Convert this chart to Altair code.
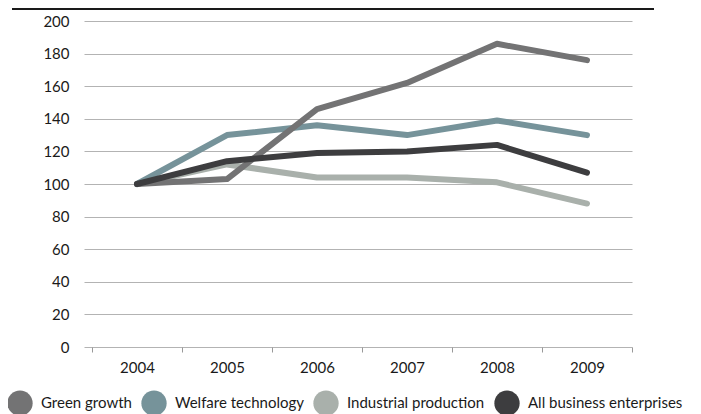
import altair as alt
import pandas as pd

years = ["2004", "2005", "2006", "2007", "2008", "2009"]
series_names = ["Green growth", "Welfare technology", "Industrial production", "All business enterprises"]
green_growth = [100, 103, 146, 162, 186, 176]
welfare_technology = [100, 130, 136, 130, 139, 130]
industrial_production = [100, 112, 104, 104, 101, 88]
all_business = [100, 114, 119, 120, 124, 107]
colors = ["#737374", "#76939a", "#a9b0ab", "#3d3d3f"]

# drawing order: industrial, welfare, green, all business on top
rows = []
for name, vals in [("Industrial production", industrial_production),
                   ("Welfare technology", welfare_technology),
                   ("Green growth", green_growth),
                   ("All business enterprises", all_business)]:
    for y, v in zip(years, vals):
        rows.append({"Year": y, "Value": v, "Series": name})
df = pd.DataFrame(rows)

FONT = "Lato"

x_enc = alt.X("Year:O", sort=years,
              scale=alt.Scale(paddingInner=0, paddingOuter=0.0444, align=1),
              axis=alt.Axis(title=None, labelAngle=0, tickBand="extent", domain=False,
                            ticks=True, tickColor="#999999", tickSize=5, labelPadding=8,
                            labelFont=FONT, labelFontSize=15, labelColor="#1a1a1a", grid=False))
y_enc = alt.Y("Value:Q", scale=alt.Scale(domain=[0, 200], nice=False),
              axis=alt.Axis(title=None, values=list(range(0, 201, 20)), domain=False, ticks=False,
                            labelPadding=15, labelFont=FONT, labelFontSize=15, labelColor="#1a1a1a",
                            grid=True, gridColor="#b3b3b3", gridWidth=1))
color_scale = alt.Scale(domain=series_names, range=colors)

lines = alt.Chart(df).mark_line(strokeWidth=6, strokeCap="round", strokeJoin="round").encode(
    x=x_enc, y=y_enc,
    color=alt.Color("Series:N", scale=color_scale, legend=None),
)

legend_pts = alt.Chart(df).mark_circle(opacity=0, size=10).encode(
    x=x_enc, y=y_enc,
    color=alt.Color("Series:N", scale=color_scale,
                    legend=alt.Legend(title=None, orient="none", legendX=-77, legendY=369,
                                      direction="horizontal", symbolType="circle",
                                      symbolSize=640, symbolStrokeWidth=0, symbolOpacity=1,
                                      labelFont=FONT, labelFontSize=15, labelColor="#1a1a1a",
                                      labelOffset=8, columnPadding=9, padding=0)),
)

top_rule = alt.Chart(df).mark_rule(color="#1a1a1a", strokeWidth=2).encode(
    x=alt.value(-72), x2=alt.value(570), y=alt.value(-12)
)

chart = alt.layer(top_rule, lines, legend_pts).resolve_legend(color="independent").properties(
    width=548, height=326,
    autosize=alt.AutoSizeParams(type="none"),
    padding={"left": 76, "top": 13, "right": 60, "bottom": 67},
).configure_view(stroke=None)

chart.save("out.html", embed_options={"renderer": "svg", "actions": False})
